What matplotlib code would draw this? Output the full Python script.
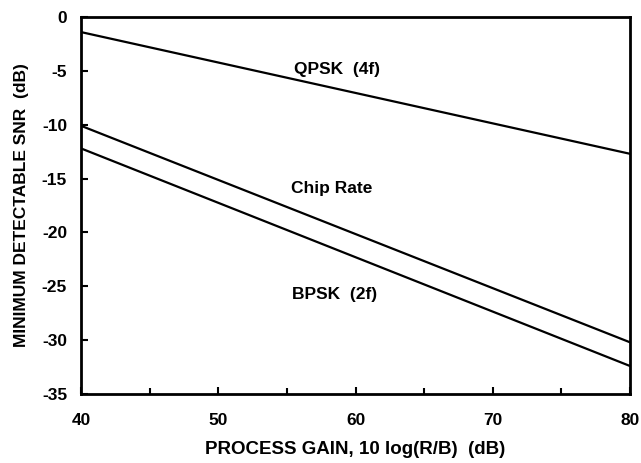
import matplotlib
matplotlib.use('Agg')
import matplotlib.pyplot as plt
from matplotlib.ticker import MultipleLocator

# process gain (dB)
gain = [40, 80]
qpsk = [-1.4, -12.7]
chip_rate = [-10.1, -30.2]
bpsk = [-12.2, -32.4]

labels = ['QPSK  (4f)', 'Chip Rate', 'BPSK  (2f)']
label_pos = [(58.65, -4.85), (58.3, -15.9), (58.5, -25.8)]

xticks = [40, 50, 60, 70, 80]
yticks = [0, -5, -10, -15, -20, -25, -30, -35]

plt.rcParams['font.family'] = ['Liberation Sans', 'DejaVu Sans']
plt.rcParams['axes.unicode_minus'] = False

fig = plt.figure(figsize=(6.41, 4.63), dpi=100)
ax = fig.add_axes([81 / 641, 1 - 394 / 463, 549 / 641, 377 / 463])

for ys in (qpsk, chip_rate, bpsk):
    ax.plot(gain, ys, color='black', lw=1.6)

for txt, (x, y) in zip(labels, label_pos):
    ax.text(x, y, txt, ha='center', va='center', fontsize=12.5,
            fontweight='bold')

ax.set_xlim(40, 80)
ax.set_ylim(-35, 0)
ax.set_xticks(xticks)
ax.set_yticks(yticks)
ax.set_xticklabels([str(v) for v in xticks], fontweight='bold')
ax.set_yticklabels([str(v) for v in yticks], fontweight='bold')
ax.xaxis.set_minor_locator(MultipleLocator(5))
ax.tick_params(which='both', direction='in', width=1.5, top=False,
               right=False, labelsize=12.5)
ax.tick_params(which='major', length=5)
ax.tick_params(which='minor', length=4)
ax.tick_params(axis='x', pad=14)
ax.tick_params(axis='y', pad=10)
for sp in ax.spines.values():
    sp.set_linewidth(2)

ax.set_xlabel('PROCESS GAIN, 10 log(R/B)  (dB)', fontsize=13.5,
              fontweight='bold', va='center')
ax.xaxis.set_label_coords(0.5, -0.1485)
ax.set_ylabel('MINIMUM DETECTABLE SNR  (dB)', fontsize=12.5,
              fontweight='bold', va='center')
ax.yaxis.set_label_coords(-0.108, 0.5)

fig.savefig('out.png', dpi=100)
